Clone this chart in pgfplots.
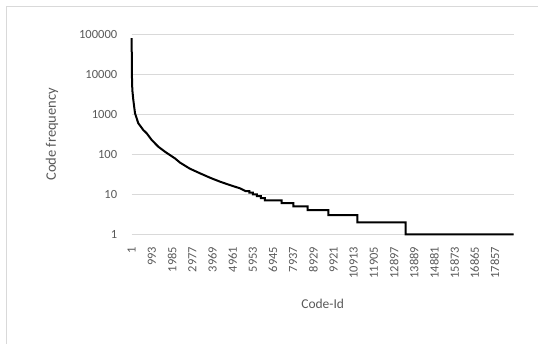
\documentclass[border=0pt]{standalone}
\usepackage{pgfplots}
\pgfplotsset{compat=1.18}
\usepackage{fontspec}
\setmainfont{Carlito}
\definecolor{gridgray}{HTML}{D9D9D9}
\definecolor{txtgray}{HTML}{595959}
\begin{document}
\begin{tikzpicture}[x=1pt,y=1pt]
\useasboundingbox (0,0) rectangle (538,343);
\draw[gridgray, line width=1.3pt] (6.5,-5) -- (6.5,336.5) -- (545,336.5);
\begin{axis}[
  at={(131.7pt,108.7pt)}, anchor=south west,
  scale only axis, width=382pt, height=200pt,
  ymode=log, ymin=1, ymax=100000,
  xmin=0.5, xmax=18780.5,
  scaled x ticks=false,
  ytick={1,10,100,1000,10000,100000},
  yticklabels={1,10,100,1000,10000,100000},
  xtick={1,993,1985,2977,3969,4961,5953,6945,7937,8929,9921,10913,11905,12897,13889,14881,15873,16865,17857},
  xticklabels={1,993,1985,2977,3969,4961,5953,6945,7937,8929,9921,10913,11905,12897,13889,14881,15873,16865,17857},
  major tick length=0pt, minor tick length=0pt,
  tick style={draw=none}, minor tick style={draw=none},
  axis line style={draw=none},
  ymajorgrids, xmajorgrids=false, yminorgrids=false,
  grid style={gridgray, line width=1.3pt},
  y tick label style={font=\fontsize{12.5}{13}\selectfont, text=txtgray, anchor=east},
  x tick label style={font=\fontsize{12.5}{13}\selectfont, text=txtgray, rotate=90, anchor=east},
  yticklabel shift=11pt,
  xticklabel shift=9pt,
  xlabel={Code-Id}, ylabel={Code frequency},
  xlabel style={font=\fontsize{13.5}{14}\selectfont, text=txtgray, at={(axis description cs:0.5,-0.3485)}, anchor=center},
  ylabel style={font=\fontsize{14.5}{15}\selectfont, text=txtgray, at={(axis description cs:-0.2086,0.5)}, anchor=center},
  clip=false,
]
\addplot[black, line width=2pt, line join=miter] coordinates {
(1,80000) (3,35000) (8,15000) (15,8000) (31,4050) (80,2280) (163,1060)
(325,596) (571,405) (738,335) (984,228) (1308,155) (1638,116) (2129,79)
(2375,62) (2850,44) (3358,33.5) (3850,26) (4341,20.7) (4830,17) (5324,14.1)
(5600,12) (5780,12) (5780,11) (5960,11) (5960,10) (6160,10) (6160,9)
(6350,9) (6350,8) (6553,8) (6553,7) (7374,7) (7374,6) (7944,6) (7944,5)
(8652,5) (8652,4) (9664,4) (9664,3) (11089,3) (11089,2) (13468,2) (13468,1)
(18780,1)
};
\end{axis}
\end{tikzpicture}
\end{document}
